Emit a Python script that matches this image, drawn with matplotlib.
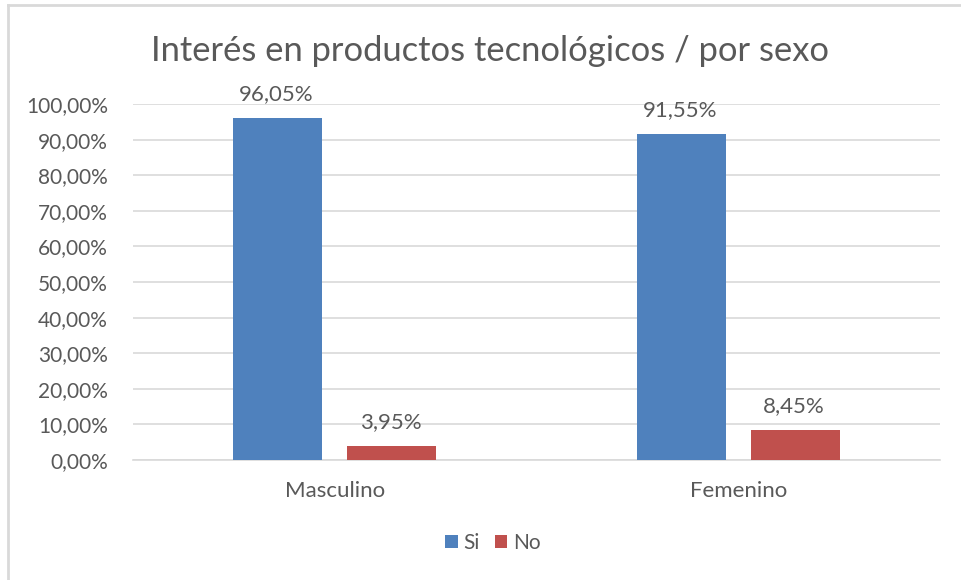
import numpy as np
import matplotlib
matplotlib.use("Agg")
from matplotlib import pyplot as plt
from matplotlib.lines import Line2D

plt.rcParams['font.family'] = ['Lato', 'DejaVu Sans']

categorias = ["Masculino", "Femenino"]
series = ["Si", "No"]
si = [0.9605, 0.9155]
no = [0.0395, 0.0845]
yticks = np.arange(0, 1.01, 0.1)

gris = '#595959'
colores = ['#4F81BD', '#C0504D']

fig = plt.figure(figsize=(9.61, 5.8), dpi=100)
ax = fig.add_axes([0.1384, 0.2069, 0.9782 - 0.1384, 0.8207 - 0.2069])

x = np.arange(len(categorias))
ancho = 0.221
desp = 0.1413

for valores, d, c, nombre in zip((si, no), (-desp, desp), colores, series):
    barras = ax.bar(x + d, valores, ancho, color=c, label=nombre, zorder=3)
    for b, v in zip(barras, valores):
        ax.annotate(('%.2f%%' % (v * 100)).replace('.', ','),
                    xy=(b.get_x() + b.get_width() / 2, v),
                    xytext=(-1, 10), textcoords='offset points',
                    ha='center', va='bottom', fontsize=16, color=gris)

ax.set_xlim(-0.5, 1.5)
ax.set_ylim(0, 1.0)
ax.set_yticks(yticks)
ax.set_yticklabels([('%.2f%%' % (t * 100)).replace('.', ',') for t in yticks])
ax.set_xticks(x)
ax.set_xticklabels(categorias)
ax.tick_params(axis='y', length=0, labelsize=15, labelcolor=gris, pad=18)
ax.tick_params(axis='x', length=0, labelsize=16, labelcolor=gris, pad=15)
ax.grid(axis='y', color='#D9D9D9', linewidth=1.2, zorder=0)
for s in ('top', 'right', 'left'):
    ax.spines[s].set_visible(False)
ax.spines['bottom'].set_color('#D9D9D9')
ax.spines['bottom'].set_linewidth(1.2)

fig.text(0.510, 0.912, "Interés en productos tecnológicos / por sexo",
         ha='center', va='center', fontsize=24.8, color=gris)

fig.legend(loc='center', bbox_to_anchor=(0.513, 0.064), ncol=2, frameon=False,
           fontsize=15, handlelength=0.6, handleheight=0.6, handletextpad=0.3,
           columnspacing=0.7, labelcolor=gris)

# marco del gráfico (solo arriba e izquierda visibles)
fig.add_artist(Line2D([8 / 961, 8 / 961], [0, 1 - 5 / 580], color='#D9D9D9', lw=2))
fig.add_artist(Line2D([8 / 961, 1], [1 - 5 / 580, 1 - 5 / 580], color='#D9D9D9', lw=2))

fig.savefig('out.png', dpi=100)
